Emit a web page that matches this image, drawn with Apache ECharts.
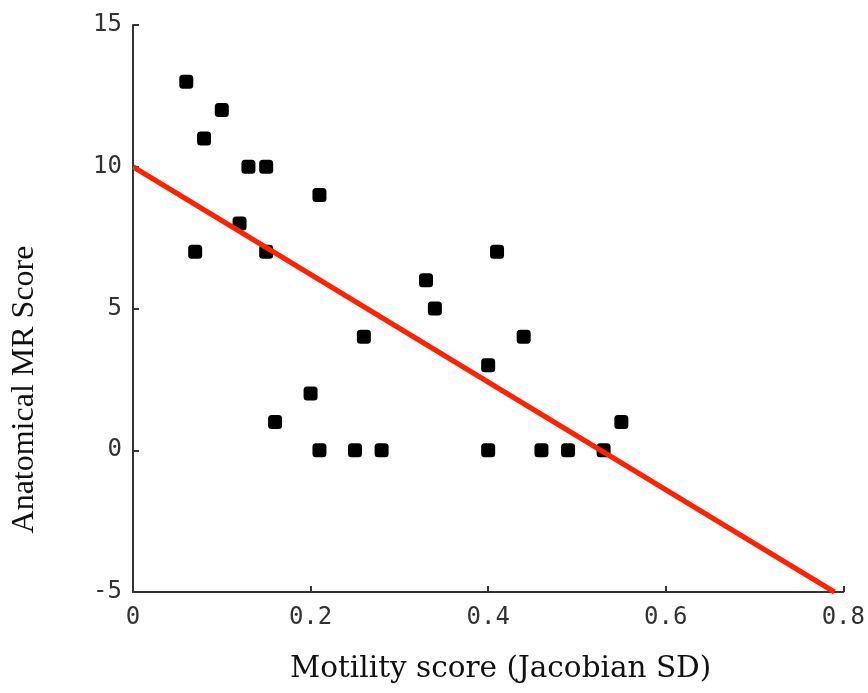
<!DOCTYPE html>
<html>
<head>
<meta charset="utf-8">
<script src="https://cdn.jsdelivr.net/npm/echarts@6/dist/echarts.min.js"></script>
<style>
html,body{margin:0;padding:0;background:#fff;}
#chart{width:868px;height:693px;}
</style>
</head>
<body>
<div id="chart"></div>
<script>
// Data
var motility = [0.06, 0.07, 0.08, 0.10, 0.12, 0.13, 0.15, 0.15, 0.16, 0.20, 0.21, 0.21, 0.25, 0.26, 0.28, 0.33, 0.34, 0.40, 0.40, 0.41, 0.44, 0.46, 0.49, 0.53, 0.55];
var mrScore  = [13,   7,    11,   12,   8,    10,   10,   7,    1,    2,    9,    0,    0,    4,    0,    6,    5,    3,    0,    7,    4,    0,    0,    0,    1];
var fitX = [0, 0.79];
var fitY = [10, -5];
var xTicks = [0, 0.2, 0.4, 0.6, 0.8];
var yTicks = [-5, 0, 5, 10, 15];

var points = motility.map(function (x, i) { return [x, mrScore[i]]; });
var fitLine = fitX.map(function (x, i) { return [x, fitY[i]]; });

var chart = echarts.init(document.getElementById('chart'));
var axisColor = '#333';
chart.setOption({
  backgroundColor: '#fff',
  animation: false,
  grid: { left: 133, right: 22, top: 25, bottom: 101 },
  xAxis: {
    type: 'value',
    min: xTicks[0], max: xTicks[xTicks.length - 1], interval: 0.2,
    name: 'Motility score (Jacobian SD)',
    nameLocation: 'middle',
    nameGap: 62,
    nameTextStyle: { fontFamily: 'DejaVu Serif', fontSize: 29.5, color: '#111', padding: [0, 0, 0, 25] },
    axisLine: { show: true, onZero: false, lineStyle: { color: axisColor, width: 2 } },
    axisTick: { show: true, inside: true, length: 6, lineStyle: { color: axisColor, width: 2 } },
    axisLabel: {
      fontFamily: 'DejaVu Sans Mono', fontSize: 24, color: '#333', margin: 14,
      formatter: function (v) { return String(Math.round(v * 10) / 10); }
    },
    splitLine: { show: false }
  },
  yAxis: {
    type: 'value',
    min: yTicks[0], max: yTicks[yTicks.length - 1], interval: 5,
    name: 'Anatomical MR Score',
    nameLocation: 'middle',
    nameGap: 92,
    nameRotate: 90,
    nameTextStyle: { fontFamily: 'Liberation Serif', fontSize: 32, color: '#111', padding: [0, 162, 0, 0] },
    axisLine: { show: true, onZero: false, lineStyle: { color: axisColor, width: 2 } },
    axisTick: { show: true, inside: true, length: 6, lineStyle: { color: axisColor, width: 2 } },
    axisLabel: { fontFamily: 'DejaVu Sans Mono', fontSize: 24, color: '#333', margin: 11,
      formatter: function (v) { return String(v); } },
    splitLine: { show: false }
  },
  series: [
    {
      type: 'scatter',
      data: points,
      symbol: 'roundRect',
      symbolSize: 14,
      itemStyle: { color: '#000', opacity: 1 },
      z: 2
    },
    {
      type: 'line',
      data: fitLine,
      showSymbol: false,
      symbol: 'none',
      lineStyle: { color: '#ff2200', width: 5 },
      z: 3
    }
  ]
});
</script>
</body>
</html>
